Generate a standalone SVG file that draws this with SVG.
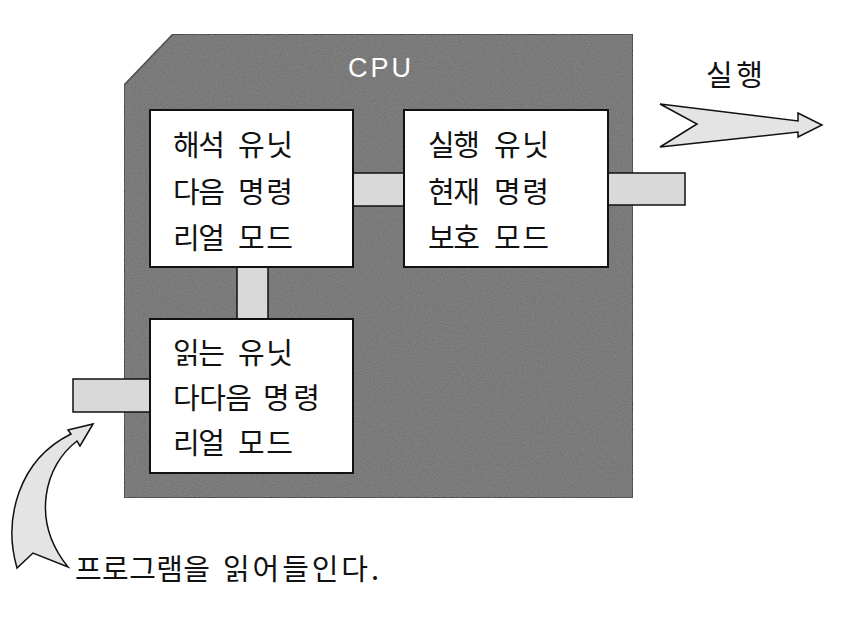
<svg xmlns="http://www.w3.org/2000/svg" width="866" height="619" viewBox="0 0 866 619">
<style>
.k{font-family:"Noto Sans CJK KR","Noto Sans",sans-serif;fill:#111;font-size:29px;font-weight:400}
.box{fill:#fff;stroke:#111;stroke-width:2}
.conn{fill:#d9d9d9;stroke:#111;stroke-width:1.5}
.arr{fill:#e4e4e4;stroke:#111;stroke-width:1.5;stroke-linejoin:miter}
</style>
<defs>
<filter id="noise" x="0" y="0" width="100%" height="100%">
<feTurbulence type="fractalNoise" baseFrequency="0.9" numOctaves="2" seed="3" result="n"/>
<feColorMatrix in="n" type="matrix" values="0 0 0 0 0.5  0 0 0 0 0.5  0 0 0 0 0.5  0 0 0 0.3 0" result="g"/>
<feComposite in="g" in2="SourceGraphic" operator="in" result="m"/>
<feMerge><feMergeNode in="SourceGraphic"/><feMergeNode in="m"/></feMerge>
</filter>
</defs>
<rect width="866" height="619" fill="#fff"/>
<g id="cpu">
<polygon points="124,85 173,34 633,34 633,498 124,498" fill="#6b6b6b" stroke="#111" stroke-width="1.5" filter="url(#noise)"/>
<text x="348" y="77" font-family="Liberation Sans, Arial, sans-serif" font-size="27" letter-spacing="3" fill="#fff">CPU</text>
</g>
<g id="connectors">
<rect class="conn" x="353" y="173" width="51" height="33"/>
<rect class="conn" x="237" y="267" width="31" height="52"/>
<rect class="conn" x="73" y="379" width="77" height="33"/>
<rect class="conn" x="608" y="173" width="77" height="32"/>
<polygon class="arr" points="660,104 798,121 798,113 822,125 798,137 798,132 660,147 697,124"/>
<path class="arr" d="M93,424 L80,446 L77,441 C45,465 30,520 68,567 L33,553 L17,568 C3,520 18,460 71,434 L68,430 Z"/>
</g>
<g id="decode-unit">
<rect class="box" x="150" y="110" width="203" height="157"/>
<text class="k" x="173" y="156" textLength="52" lengthAdjust="spacing">해석</text>
<text class="k" x="238" y="156" textLength="55" lengthAdjust="spacing">유닛</text>
<text class="k" x="173" y="203" textLength="52" lengthAdjust="spacing">다음</text>
<text class="k" x="238" y="203" textLength="55" lengthAdjust="spacing">명령</text>
<text class="k" x="173" y="249" textLength="52" lengthAdjust="spacing">리얼</text>
<text class="k" x="238" y="249" textLength="55" lengthAdjust="spacing">모드</text>
</g>
<g id="exec-unit">
<rect class="box" x="404" y="110" width="204" height="157"/>
<text class="k" x="428" y="156" textLength="52" lengthAdjust="spacing">실행</text>
<text class="k" x="494" y="156" textLength="55" lengthAdjust="spacing">유닛</text>
<text class="k" x="428" y="203" textLength="52" lengthAdjust="spacing">현재</text>
<text class="k" x="494" y="203" textLength="55" lengthAdjust="spacing">명령</text>
<text class="k" x="428" y="249" textLength="52" lengthAdjust="spacing">보호</text>
<text class="k" x="494" y="249" textLength="55" lengthAdjust="spacing">모드</text>
</g>
<g id="read-unit">
<rect class="box" x="150" y="319" width="203" height="154"/>
<text class="k" x="173" y="364" textLength="52" lengthAdjust="spacing">읽는</text>
<text class="k" x="238" y="364" textLength="55" lengthAdjust="spacing">유닛</text>
<text class="k" x="173" y="409" textLength="79" lengthAdjust="spacing">다다음</text>
<text class="k" x="263" y="409" textLength="57" lengthAdjust="spacing">명령</text>
<text class="k" x="173" y="454" textLength="52" lengthAdjust="spacing">리얼</text>
<text class="k" x="238" y="454" textLength="55" lengthAdjust="spacing">모드</text>
</g>
<g id="labels">
<text class="k" x="706" y="86" textLength="57" lengthAdjust="spacing">실행</text>
<text class="k" x="75" y="580" textLength="135" lengthAdjust="spacing">프로그램을</text>
<text class="k" x="223" y="580" textLength="156" lengthAdjust="spacing">읽어들인다.</text>
</g>
</svg>
